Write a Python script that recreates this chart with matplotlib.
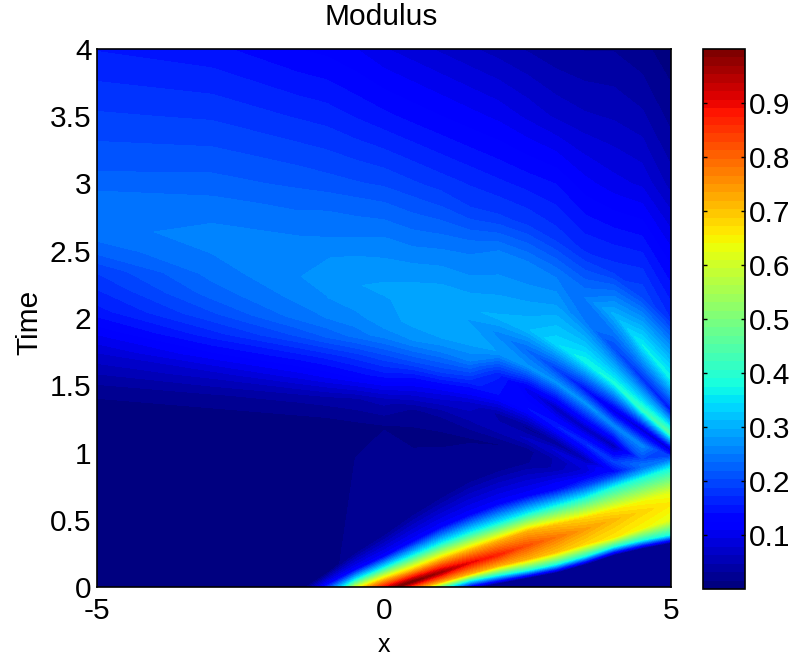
import numpy as np
import matplotlib
matplotlib.use('Agg')
import matplotlib.pyplot as plt
from matplotlib.cm import ScalarMappable
from matplotlib.colors import Normalize

plt.rcParams['font.family'] = ['Liberation Sans', 'DejaVu Sans']

x_vals = [-5, -3, -1.5, -1, -0.5, 0, 0.5, 1, 1.5, 2, 2.5, 3, 3.5, 4, 4.5, 5]

# each x has the same 23 samples, taken along the ridges and valleys of the picture:
# time of the sample, then the modulus.
# low side of the main ridge, peak, high side, then the fan, then the top
t_by_x = [
    [-1.6, -1.5, -1.45, -1.4, -1.35, -1.3, -1.2, -1.0, -.6, 1.3, 1.45, 1.6, 1.75, 1.9, 2.05, 2.2, 2.35, 2.5, 2.65, 2.85, 3, 3.5, 4],
    [-1.6, -1.2, -1.15, -1.1, -.9, -.8, -.7, -.5, -.3, 1.28, 1.43, 1.58, 1.73, 1.88, 2.03, 2.18, 2.33, 2.48, 2.63, 2.85, 3, 3.5, 4],
    [-1.6, -.7, -.6, -.5, -.4, -.32, -.25, -.12, -.03, 1.25, 1.41, 1.57, 1.72, 1.87, 2.01, 2.16, 2.31, 2.46, 2.61, 2.85, 3, 3.5, 4],
    [-1.6, -.4, -.35, -.27, -.2, -.15, -.08, .02, .1, 1.24, 1.4, 1.56, 1.71, 1.86, 2, 2.15, 2.3, 2.45, 2.6, 2.85, 3, 3.5, 4],
    [-1.6, -.25, -.18, -.14, -.1, -.03, .05, .13, .26, 1.22, 1.4, 1.57, 1.72, 1.87, 2, 2.15, 2.25, 2.42, 2.6, 2.85, 3, 3.5, 4],
    [-1.6, -.2, -.13, -.08, -.03, .05, .14, .23, .38, 1.2, 1.39, 1.58, 1.72, 1.88, 2, 2.15, 2.22, 2.4, 2.6, 2.85, 3, 3.5, 4],
    [-1.6, -.14, -.07, -.02, .04, .12, .23, .34, .53, 1.16, 1.32, 1.52, 1.67, 1.83, 1.96, 2.1, 2.18, 2.37, 2.57, 2.85, 3, 3.5, 4],
    [-1.6, -.07, -.01, .04, .11, .2, .32, .45, .66, 1.13, 1.29, 1.45, 1.6, 1.76, 1.9, 2.05, 2.13, 2.35, 2.55, 2.85, 3, 3.5, 4],
    [-1.6, -.01, .05, .1, .18, .27, .4, .54, .78, 1.1, 1.23, 1.37, 1.53, 1.68, 1.83, 1.98, 2.07, 2.32, 2.52, 2.8, 3, 3.5, 4],
    [-1.6, .03, .09, .16, .24, .34, .47, .62, .86, 1.06, 1.17, 1.28, 1.43, 1.58, 1.75, 1.88, 2, 2.27, 2.5, 2.75, 3, 3.5, 4],
    [-1.6, .07, .125, .21, .31, .41, .54, .68, .92, 1.02, 1.1, 1.18, 1.33, 1.47, 1.64, 1.76, 1.92, 2.2, 2.42, 2.7, 3, 3.5, 4],
    [-1.6, .11, .17, .26, .37, .46, .6, .72, .88, .95, 1.01, 1.07, 1.2, 1.33, 1.52, 1.62, 1.81, 2.1, 2.33, 2.6, 3, 3.5, 4],
    [-1.6, .17, .23, .32, .43, .51, .66, .75, .83, .87, .91, .95, 1.07, 1.18, 1.37, 1.47, 1.68, 1.97, 2.15, 2.5, 3, 3.5, 4],
    [-1.6, .24, .3, .37, .5, .57, .74, .8, .83, .84, .85, .86, .93, 1.05, 1.2, 1.31, 1.52, 1.78, 2.03, 2.35, 3, 3.5, 4],
    [-1.6, .29, .35, .44, .56, .63, .81, .84, .86, .87, .88, .89, .91, .95, 1.05, 1.17, 1.32, 1.55, 1.8, 2.15, 3, 3.5, 4],
    [-1.6, .33, .39, .5, .62, .7, .88, .9, .92, .93, .94, .95, .96, .97, .98, 1.02, 1.14, 1.31, 1.55, 2, 3, 3.5, 4],
]
modulus_by_x = [
    [.003, .003, .003, .003, .003, .003, .003, .003, .004, .006, .02, .05, .08, .115, .15, .17, .19, .225, .245, .25, .225, .19, .155],
    [.003, .003, .003, .003, .003, .003, .003, .003, .005, .008, .03, .07, .12, .165, .2, .225, .24, .25, .255, .24, .225, .185, .145],
    [.003, .03, .375, .72, .98, .72, .375, .12, .006, .011, .037, .1, .15, .205, .24, .255, .265, .26, .25, .23, .215, .17, .125],
    [.003, .03, .375, .72, .98, .72, .375, .12, .012, .012, .04, .11, .16, .22, .25, .265, .27, .265, .25, .23, .21, .165, .12],
    [.003, .03, .375, .72, .98, .72, .375, .12, .02, .014, .045, .13, .18, .24, .26, .275, .28, .27, .25, .225, .205, .155, .11],
    [.003, .03, .375, .72, .98, .72, .375, .12, .03, .015, .055, .15, .2, .26, .275, .28, .285, .27, .25, .22, .2, .145, .095],
    [.003, .03, .375, .72, 1, .72, .375, .12, .03, .012, .03, .12, .2, .265, .285, .285, .29, .27, .245, .21, .19, .135, .085],
    [.003, .03, .375, .72, .96, .72, .375, .12, .03, .012, .035, .1, .19, .255, .295, .29, .295, .27, .245, .2, .18, .125, .075],
    [.003, .03, .375, .72, .9, .72, .375, .12, .03, .014, .045, .075, .165, .25, .29, .28, .295, .265, .245, .19, .17, .115, .065],
    [.003, .03, .375, .72, .87, .72, .375, .12, .03, .015, .055, .04, .14, .16, .28, .26, .3, .27, .25, .19, .16, .105, .055],
    [.003, .03, .375, .72, .82, .72, .375, .12, .03, .025, .065, .025, .14, .1, .27, .23, .31, .27, .25, .185, .15, .09, .045],
    [.003, .03, .375, .7, .78, .7, .375, .14, .05, .05, .08, .03, .155, .06, .27, .19, .34, .28, .245, .18, .14, .075, .035],
    [.003, .03, .375, .68, .74, .68, .375, .2, .1, .08, .09, .05, .17, .06, .27, .14, .37, .25, .25, .17, .115, .065, .03],
    [.003, .03, .375, .66, .71, .66, .375, .24, .18, .16, .14, .13, .19, .05, .26, .09, .38, .2, .3, .18, .1, .06, .03],
    [.003, .03, .375, .645, .68, .645, .375, .31, .28, .26, .25, .24, .24, .2, .26, .07, .41, .17, .36, .2, .09, .05, .02],
    [.003, .03, .375, .62, .66, .62, .375, .34, .3, .28, .26, .24, .22, .2, .15, .07, .45, .14, .37, .17, .055, .025, .006],
]

x_ticks = [-5, 0, 5]
y_ticks = [0, 0.5, 1, 1.5, 2, 2.5, 3, 3.5, 4]
y_labels = ['0', '0.5', '1', '1.5', '2', '2.5', '3', '3.5', '4']
bar_ticks = [.1, .2, .3, .4, .5, .6, .7, .8, .9]

W, H = 795, 659
fig = plt.figure(figsize=(W / 100, H / 100), dpi=100)
ax = fig.add_axes([97 / W, 1 - 587 / H, (671 - 97) / W, (587 - 49) / H])
cax = fig.add_axes([703 / W, 1 - 589 / H, (745 - 703) / W, (589 - 49) / H])

times = np.array(t_by_x).T
z = np.array(modulus_by_x).T
xx = np.tile(x_vals, (times.shape[0], 1))

cmap = plt.get_cmap('jet', 64)
norm = Normalize(0, 1)
ax.contourf(xx, times, z, levels=np.linspace(0, 1, 65), cmap=cmap, norm=norm)
ax.set_xlim(-5, 5)
ax.set_ylim(0, 4)
ax.set_xticks(x_ticks)
ax.set_xticklabels([str(v) for v in x_ticks])
ax.set_yticks(y_ticks)
ax.set_yticklabels(y_labels)
ax.tick_params(length=0, labelsize=21.5)
ax.tick_params(axis='y', pad=4)
ax.tick_params(axis='x', pad=7)
ax.set_title('Modulus', fontsize=21.5, pad=17, x=0.495)
ax.set_xlabel('x', fontsize=18, labelpad=6)
ax.set_ylabel('Time', fontsize=21.5, labelpad=5, y=0.4926)
for s in ax.spines.values():
    s.set_linewidth(1.2)

cb = fig.colorbar(ScalarMappable(norm=norm, cmap=cmap), cax=cax)
cb.set_ticks(bar_ticks)
cb.set_ticklabels([str(v) for v in bar_ticks])
cax.tick_params(direction='in', length=3, width=1, left=True, right=True, labelsize=21.5, pad=3)
cb.outline.set_linewidth(1.2)

fig.savefig('out.png', dpi=100)
